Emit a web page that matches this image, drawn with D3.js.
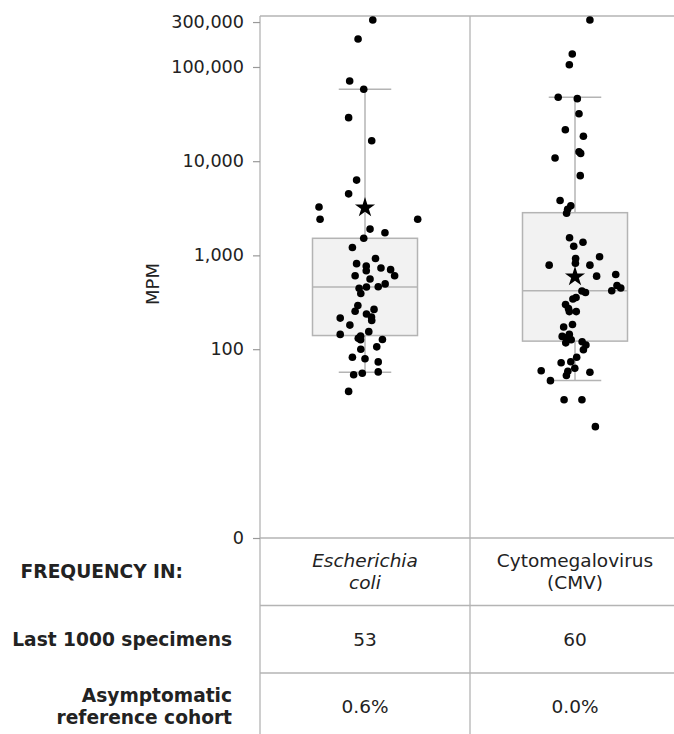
<!DOCTYPE html>
<html lang="en">
<head>
<meta charset="UTF-8">
<title>MPM by organism</title>
<script src="https://d3js.org/d3.v7.min.js"></script>
<style>
  body { margin: 0; background: #fff; }
  text { font-family: "DejaVu Sans", sans-serif; fill: #222; }
</style>
</head>
<body>
<svg width="674" height="734"></svg>
<script>
// ---- data ----
const organisms = ["Escherichia coli", "Cytomegalovirus (CMV)"];
const organismLines = [["Escherichia", "coli"], ["Cytomegalovirus", "(CMV)"]];
const organismItalic = [true, false];
const last1000 = ["53", "60"];
const cohortFreq = ["0.6%", "0.0%"];
const rowLabels = [["FREQUENCY IN:"], ["Last 1000 specimens"], ["Asymptomatic", "reference cohort"]];
const tickValues = [0, 100, 1000, 10000, 100000, 300000];

const ecoliMpm = [315000, 198000, 71000, 58000, 29000, 16500, 6300, 4500, 3260, 2420,
  2420, 1900, 1740, 1520, 1210, 927, 816, 771, 735, 705,
  686, 607, 607, 561, 497, 464, 461, 447, 393, 293,
  266, 254, 238, 221, 203, 215, 181, 154, 144, 138,
  131, 126, 127, 106, 100, 82, 79, 73, 57, 55, 53, 35];
const ecoliJitter = [0.037, -0.033, -0.073, -0.006, -0.078, 0.032, -0.040, -0.078, -0.219, -0.214,
  0.251, 0.024, 0.095, -0.006, -0.060, 0.050, -0.040, 0.006, 0.076, 0.122,
  0.006, 0.141, -0.047, 0.024, 0.096, 0.063, 0.007, -0.028, -0.020, -0.034,
  0.043, -0.047, 0.007, 0.031, 0.032, -0.118, -0.072, 0.018, -0.118, -0.021,
  -0.032, -0.021, 0.083, 0.056, -0.020, -0.060, 0.000, 0.063, 0.063, -0.013, -0.054, -0.078];

const cmvMpm = [315000, 137400, 105800, 47700, 46100, 31900, 21600, 18400, 12600, 12100,
  10800, 7020, 3830, 3360, 3090, 2800, 1540, 1380, 1250, 966,
  927, 824, 787, 787, 601, 626, 478, 450, 420, 418,
  403, 356, 343, 300, 272, 252, 252, 184, 173, 144,
  137, 133, 126, 117, 120, 111, 98.5, 81.8, 73.2, 71.6,
  62.3, 57.9, 52.1, 58.6, 56.4, 45.8, 28.4, 28.4, 14.2];
const cmvJitter = [0.071, -0.013, -0.027, -0.080, 0.011, 0.019, -0.046, 0.040, 0.019, 0.027,
  -0.095, 0.025, -0.071, -0.020, -0.035, -0.040, -0.026, 0.038, -0.006, 0.117,
  0.003, 0.002, -0.123, 0.071, 0.103, 0.194, 0.200, 0.218, 0.175, 0.033,
  0.050, 0.005, -0.010, -0.045, -0.031, -0.027, 0.006, -0.012, -0.054, -0.027,
  -0.061, -0.037, -0.018, -0.044, 0.034, 0.052, 0.040, 0.008, -0.020, -0.066,
  -0.001, -0.034, -0.041, -0.161, 0.071, -0.117, -0.052, 0.033, 0.097];

const q1 = [140, 122];
const medians = [461, 421];
const q3 = [1518, 2840];
const whiskerLo = [56.4, 46];
const whiskerHi = [58000, 47700];
const means = [3210, 594];

const points = [ecoliMpm, cmvMpm];
const jitters = [ecoliJitter, cmvJitter];

// ---- layout ----
const plotLeft = 260, plotRight = 680, plotTop = 16, plotBottom = 538, rowH = 67.5, svgH = 734;
const lineColor = "#b4b4b4";

const svg = d3.select("svg");

const x = d3.scaleBand().domain(organisms).range([plotLeft, plotRight]).padding(0);
const y = d3.scaleSymlog().constant(1).domain([0, 347800]).range([plotBottom, plotTop]);
const bw = x.bandwidth();

// frame + table grid
const grid = svg.append("g").attr("stroke", lineColor).attr("stroke-width", 1.3);
grid.append("line").attr("x1", plotLeft).attr("x2", plotRight).attr("y1", plotTop).attr("y2", plotTop);
[0, 1, 2].forEach(function (i) {
  const yy = plotBottom + i * rowH;
  grid.append("line").attr("x1", plotLeft).attr("x2", plotRight).attr("y1", yy).attr("y2", yy);
});
organisms.forEach(function (d) {
  grid.append("line").attr("x1", x(d) + bw).attr("x2", x(d) + bw).attr("y1", plotTop).attr("y2", svgH);
});
grid.append("line").attr("x1", plotLeft).attr("x2", plotLeft).attr("y1", plotTop).attr("y2", svgH);

// y axis
const yAxis = svg.append("g")
  .attr("transform", "translate(" + plotLeft + ",0)")
  .call(d3.axisLeft(y).tickValues(tickValues).tickSize(7).tickPadding(9)
    .tickFormat(d3.format(",")));
yAxis.select(".domain").remove();
yAxis.selectAll(".tick line").attr("stroke", "#999").attr("stroke-width", 1.2);
yAxis.selectAll(".tick text").attr("font-size", "17.6px").attr("fill", "#222")
  .attr("font-family", "DejaVu Sans, sans-serif");

svg.append("text")
  .attr("transform", "translate(158.5,284) rotate(-90)")
  .attr("text-anchor", "middle")
  .attr("font-size", "18px")
  .text("MPM");

// boxes
const boxes = svg.append("g");
organisms.forEach(function (d, i) {
  const cx = x(d) + bw / 2;
  const g = boxes.append("g").attr("stroke", lineColor).attr("stroke-width", 1.5);
  g.append("line").attr("x1", cx).attr("x2", cx).attr("y1", y(whiskerHi[i])).attr("y2", y(q3[i]));
  g.append("line").attr("x1", cx).attr("x2", cx).attr("y1", y(q1[i])).attr("y2", y(whiskerLo[i]));
  [whiskerHi[i], whiskerLo[i]].forEach(function (v) {
    g.append("line").attr("x1", cx - bw / 8).attr("x2", cx + bw / 8).attr("y1", y(v)).attr("y2", y(v));
  });
  g.append("rect")
    .attr("x", cx - bw / 4).attr("width", bw / 2)
    .attr("y", y(q3[i])).attr("height", y(q1[i]) - y(q3[i]))
    .attr("fill", "#f2f2f2");
  g.append("line").attr("x1", cx - bw / 4).attr("x2", cx + bw / 4)
    .attr("y1", y(medians[i])).attr("y2", y(medians[i]));
});

// jittered points
organisms.forEach(function (d, i) {
  const cx = x(d) + bw / 2;
  svg.append("g").selectAll("circle")
    .data(points[i])
    .join("circle")
    .attr("cx", function (v, j) { return cx + jitters[i][j] * bw; })
    .attr("cy", function (v) { return y(v); })
    .attr("r", 3.8)
    .attr("fill", "#000");
});

// means
svg.append("g").selectAll("path")
  .data(means)
  .join("path")
  .attr("d", d3.symbol(d3.symbolStar, 125))
  .attr("transform", function (v, i) {
    return "translate(" + (x(organisms[i]) + bw / 2) + "," + y(v) + ")";
  })
  .attr("fill", "#000");

// table text
const rows = [organismLines, last1000.map(function (v) { return [v]; }),
  cohortFreq.map(function (v) { return [v]; })];
rows.forEach(function (row, r) {
  const cy = plotBottom + r * rowH + rowH / 2;
  row.forEach(function (lines, i) {
    const t = svg.append("text")
      .attr("x", x(organisms[i]) + bw / 2)
      .attr("text-anchor", "middle")
      .attr("font-size", "18.5px")
      .attr("font-style", r === 0 && organismItalic[i] ? "italic" : "normal");
    lines.forEach(function (s, k) {
      t.append("tspan")
        .attr("x", x(organisms[i]) + bw / 2)
        .attr("y", cy + (k - (lines.length - 1) / 2) * 22 + 6.5)
        .text(s);
    });
  });
});

rowLabels.forEach(function (lines, r) {
  const cy = plotBottom + r * rowH + rowH / 2;
  const t = svg.append("text")
    .attr("text-anchor", "end")
    .attr("font-size", "18.6px")
    .attr("font-weight", "bold")
    .attr("fill", "#111");
  lines.forEach(function (s, k) {
    t.append("tspan")
      .attr("x", r === 0 ? 183 : 232)
      .attr("y", cy + (k - (lines.length - 1) / 2) * 22 + 6.5)
      .text(s);
  });
});
</script>
</body>
</html>
